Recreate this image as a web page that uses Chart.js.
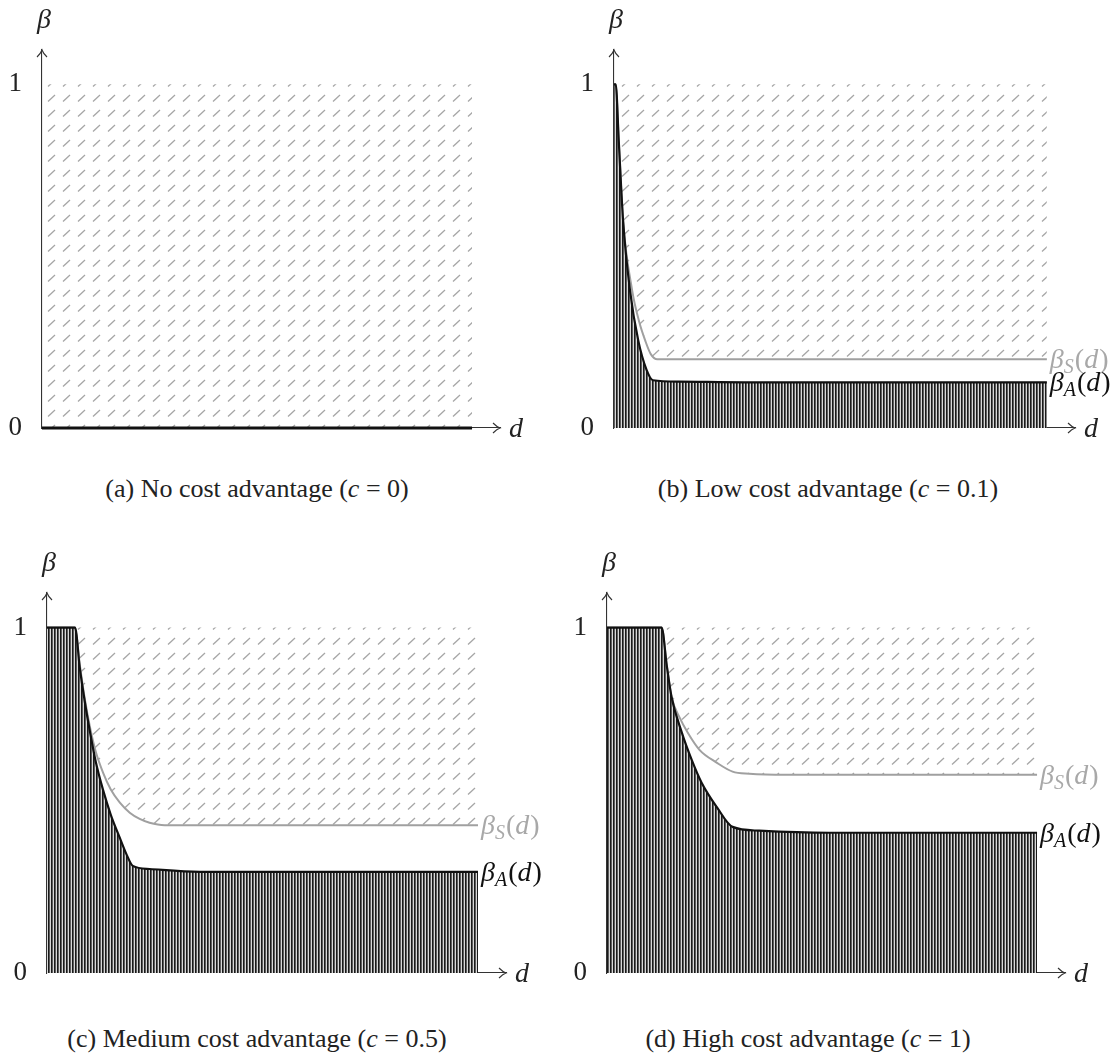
<!DOCTYPE html>
<html>
<head>
<meta charset="utf-8">
<script src="https://cdn.jsdelivr.net/npm/chart.js@4.4.1/dist/chart.umd.min.js"></script>
<style>
  body { margin: 0; background: #fff; }
  #page { position: relative; width: 1118px; height: 1056px; }
  .panel { position: absolute; width: 559px; height: 470px; }
  .cap { position: absolute; font-family: 'Liberation Serif', serif; font-size: 26px; color: #222;
         white-space: nowrap; transform: translate(-50%, -50%); }
</style>
</head>
<body>
<div id="page">
  <div class="panel" style="left:0;top:0"><canvas id="c0"></canvas></div>
  <div class="panel" style="left:559px;top:0"><canvas id="c1"></canvas></div>
  <div class="panel" style="left:0;top:543px"><canvas id="c2"></canvas></div>
  <div class="panel" style="left:559px;top:543px"><canvas id="c3"></canvas></div>
  <div class="cap" style="left:257px;top:489px">(a) No cost advantage (<i>c</i> = 0)</div>
  <div class="cap" style="left:828px;top:489px">(b) Low cost advantage (<i>c</i> = 0.1)</div>
  <div class="cap" style="left:257px;top:1039px">(c) Medium cost advantage (<i>c</i> = 0.5)</div>
  <div class="cap" style="left:808px;top:1039px">(d) High cost advantage (<i>c</i> = 1)</div>
</div>
<script>
// values, d scaled to 0..1

// (a) c = 0
const dA0 = [0, 1];
const betaA0 = [0, 0];
const dS0 = [0, 1];
const betaS0 = [0, 0];

// (b) c = 0.1
const dA1 = [0, 0.004, 0.011, 0.021, 0.037, 0.056, 0.075, 0.09, 0.15, 0.3, 1];
const betaA1 = [1, 1, 0.835, 0.603, 0.4, 0.255, 0.17, 0.139, 0.135, 0.133, 0.133];
const dS1 = [0, 0.004, 0.011, 0.021, 0.042, 0.058, 0.072, 0.085, 0.1, 1];
const betaS1 = [1, 1, 0.835, 0.603, 0.4, 0.31, 0.255, 0.215, 0.2, 0.2];

// (c) c = 0.5
const dA2 = [0, 0.065, 0.076, 0.088, 0.1, 0.113, 0.13, 0.148, 0.169, 0.185, 0.199, 0.238, 0.354, 1];
const betaA2 = [1, 1, 0.884, 0.783, 0.696, 0.612, 0.53, 0.458, 0.391, 0.342, 0.31, 0.301, 0.293, 0.293];
const dS2 = [0, 0.065, 0.076, 0.088, 0.1, 0.113, 0.13, 0.148, 0.169, 0.192, 0.215, 0.238, 0.273, 0.308, 1];
const betaS2 = [1, 1, 0.893, 0.791, 0.71, 0.641, 0.58, 0.531, 0.493, 0.464, 0.446, 0.435, 0.428, 0.428, 0.428];

// (d) c = 1
const dA3 = [0, 0.127, 0.139, 0.15, 0.174, 0.197, 0.22, 0.255, 0.292, 0.354, 0.516, 1];
const betaA3 = [1, 1, 0.89, 0.8, 0.696, 0.617, 0.551, 0.481, 0.423, 0.412, 0.406, 0.406];
const dS3 = [0, 0.127, 0.139, 0.15, 0.169, 0.1875, 0.215, 0.255, 0.292, 0.331, 0.417, 1];
const betaS3 = [1, 1, 0.89, 0.8, 0.739, 0.696, 0.646, 0.609, 0.583, 0.577, 0.574, 0.574];

const yTicks = [0, 1];
const yTickLabels = ['0', '1'];

const serif = "'Liberation Serif', serif";

// hatch patterns
function diagPattern() {
  const p = document.createElement('canvas');
  p.width = 15; p.height = 15;
  const g = p.getContext('2d');
  g.strokeStyle = '#a6a6a6';
  g.lineWidth = 1.3;
  g.beginPath();
  g.moveTo(3, 11.5);
  g.lineTo(10, 5);
  g.stroke();
  return g.createPattern(p, 'repeat');
}
function vertPattern() {
  const p = document.createElement('canvas');
  p.width = 3; p.height = 4;
  const g = p.getContext('2d');
  g.fillStyle = '#d8d8d8'; g.fillRect(0, 0, 3, 4);
  g.fillStyle = '#1a1a1a'; g.fillRect(0, 0, 1, 4);
  g.fillStyle = '#5e5e5e'; g.fillRect(1, 0, 1, 4);
  return g.createPattern(p, 'repeat');
}

function pts(xs, ys) { return xs.map((x, i) => ({ x: x, y: ys[i] })); }

// draws beta_X(d) with subscript
function betaLabel(ctx, x, y, sub, color) {
  ctx.save();
  ctx.fillStyle = color;
  ctx.textBaseline = 'alphabetic';
  ctx.textAlign = 'left';
  let cx = x;
  ctx.font = 'italic 28px ' + serif;
  ctx.fillText('β', cx, y); cx += ctx.measureText('β').width;
  ctx.font = 'italic 20px ' + serif;
  ctx.fillText(sub, cx, y + 5); cx += ctx.measureText(sub).width + 1;
  ctx.font = '28px ' + serif;
  ctx.fillText('(', cx, y); cx += ctx.measureText('(').width;
  ctx.font = 'italic 28px ' + serif;
  ctx.fillText('d', cx, y); cx += ctx.measureText('d').width + 1;
  ctx.font = '28px ' + serif;
  ctx.fillText(')', cx, y);
  ctx.restore();
}

const axisDecor = {
  id: 'axisDecor',
  afterDraw(chart, args, opts) {
    const { ctx, chartArea: a } = chart;
    ctx.save();
    ctx.strokeStyle = '#333';
    ctx.lineWidth = 1.1;
    // arrow heads
    ctx.beginPath();
    ctx.moveTo(a.right - 7, a.bottom - 5); ctx.quadraticCurveTo(a.right - 3, a.bottom - 1, a.right, a.bottom);
    ctx.quadraticCurveTo(a.right - 3, a.bottom + 1, a.right - 7, a.bottom + 5);
    ctx.moveTo(a.left - 5, a.top + 7); ctx.quadraticCurveTo(a.left - 1, a.top + 3, a.left, a.top);
    ctx.quadraticCurveTo(a.left + 1, a.top + 3, a.left + 5, a.top + 7);
    ctx.stroke();
    ctx.fillStyle = '#222';
    ctx.font = 'italic 28px ' + serif;
    ctx.textAlign = 'center';
    ctx.textBaseline = 'middle';
    ctx.fillText('β', a.left + 2, a.top - 29);
    ctx.fillText('d', a.right + 16, a.bottom + 2);
    if (opts.curveLabels) {
      const s = chart.getDatasetMeta(0).data;
      const b = chart.getDatasetMeta(1).data;
      const ps = s[s.length - 1], pb = b[b.length - 1];
      betaLabel(ctx, ps.x + 3, ps.y + 9, 'S', '#a8a8a8');
      betaLabel(ctx, pb.x + 3, pb.y + 9, 'A', '#111');
    }
    ctx.restore();
  }
};

const layouts = [
  { axisX: 42, rightPad: 59, bottom: 428 },
  { axisX: 55, rightPad: 43, bottom: 428 },
  { axisX: 47, rightPad: 53, bottom: 430 },
  { axisX: 48, rightPad: 53, bottom: 430 }
];
const curves = [
  [dS0, betaS0, dA0, betaA0],
  [dS1, betaS1, dA1, betaA1],
  [dS2, betaS2, dA2, betaA2],
  [dS3, betaS3, dA3, betaA3]
];

curves.forEach((cv, i) => {
  const L = layouts[i];
  const ctx = document.getElementById('c' + i).getContext('2d');
  new Chart(ctx, {
    type: 'line',
    data: {
      datasets: [
        {
          label: 'beta_S',
          order: 1,
          data: pts(cv[0], cv[1]),
          borderColor: i === 0 ? 'rgba(0,0,0,0)' : '#a0a0a0',
          borderWidth: 2,
          pointRadius: 0,
          clip: 4,
          cubicInterpolationMode: 'monotone',
          fill: { value: 1 },
          backgroundColor: diagPattern()
        },
        {
          label: 'beta_A',
          order: 0,
          data: pts(cv[2], cv[3]),
          borderColor: '#111',
          borderWidth: i === 0 ? 3 : 2.2,
          pointRadius: 0,
          clip: 4,
          cubicInterpolationMode: 'monotone',
          fill: 'origin',
          backgroundColor: vertPattern()
        }
      ]
    },
    options: {
      responsive: true,
      maintainAspectRatio: false,
      animation: false,
      layout: { padding: { top: 50, right: L.rightPad, left: 0, bottom: 0 } },
      plugins: {
        legend: { display: false },
        tooltip: { enabled: false },
        axisDecor: { curveLabels: i > 0 }
      },
      scales: {
        x: {
          type: 'linear', min: 0, max: 1.065,
          grid: { display: false, drawTicks: false },
          border: { display: true, color: '#333', width: 1.1 },
          ticks: { display: false },
          afterFit: s => { s.height = 470 - L.bottom; }
        },
        y: {
          min: 0, max: 1.1,
          grid: { display: false, drawTicks: false },
          border: { display: true, color: '#333', width: 1.1 },
          afterBuildTicks: s => { s.ticks = yTicks.map(v => ({ value: v })); },
          ticks: {
            padding: 20,
            color: '#222',
            font: { family: serif, size: 27 },
            callback: v => yTickLabels[yTicks.indexOf(v)]
          },
          afterFit: s => { s.width = L.axisX; }
        }
      }
    },
    plugins: [axisDecor]
  });
});
</script>
</body>
</html>
